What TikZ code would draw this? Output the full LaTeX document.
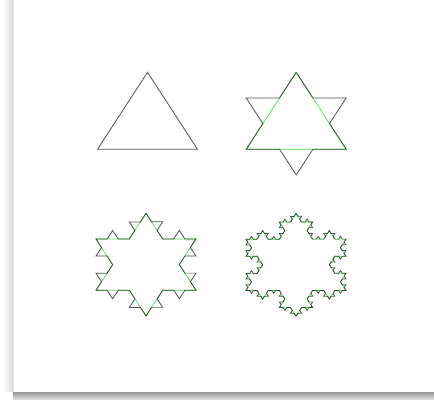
\documentclass[tikz,border=0pt]{standalone}
\usetikzlibrary{decorations.fractals}

\definecolor{oldgreen}{RGB}{70,235,70}

\begin{document}
\begin{tikzpicture}[x=0.03cm, y=0.03cm]
    \tikzset{
    curve/.style={
        draw=black!85,
        draw opacity=0.8,
        line width=0.7pt,
        line join=miter
    },
    older/.style={
        draw=oldgreen,
        line width=0.65pt
    },
    decoration={Koch snowflake}
}
        \useasboundingbox (0,0) rectangle (434,400);

        % card with its shadow
        \shade[left color=white, right color=black!15] (3,8) rectangle (13,400);
        \shade[top color=black!42, bottom color=black!10] (13,0) rectangle (434,8);
        \fill[white] (13,8) rectangle (434,400);
        \draw[black!10, line width=0.4pt] (13,8) -- (13,400);

        % level 0
        \begin{scope}[transform canvas={shift={(147.5,327.7)}, yscale=0.889}]
        \draw[curve] (0,0) -- (50,-86.6) -- (-50,-86.6) -- cycle;
        \end{scope}

        % level 1
        \begin{scope}[transform canvas={shift={(296.2,327.7)}, yscale=0.889}]
        \draw[older] (0,0) -- (50,-86.6) -- (-50,-86.6) -- cycle;
        \draw[curve] decorate{(0,0) -- (50,-86.6) -- (-50,-86.6) -- cycle};
        \end{scope}

        % level 2
        \begin{scope}[transform canvas={shift={(146,186.7)}, yscale=0.889}]
        \draw[older] decorate{(0,0) -- (50,-86.6) -- (-50,-86.6) -- cycle};
        \draw[curve] decorate{decorate{(0,0) -- (50,-86.6) -- (-50,-86.6) -- cycle}};
        \end{scope}

        % level 3
        \begin{scope}[transform canvas={shift={(296,186.5)}, yscale=0.889}]
        \draw[older] decorate{decorate{(0,0) -- (50,-86.6) -- (-50,-86.6) -- cycle}};
        \draw[curve] decorate{decorate{decorate{(0,0) -- (50,-86.6) -- (-50,-86.6) -- cycle}}};
        \end{scope}
    \end{tikzpicture}
\end{document}
